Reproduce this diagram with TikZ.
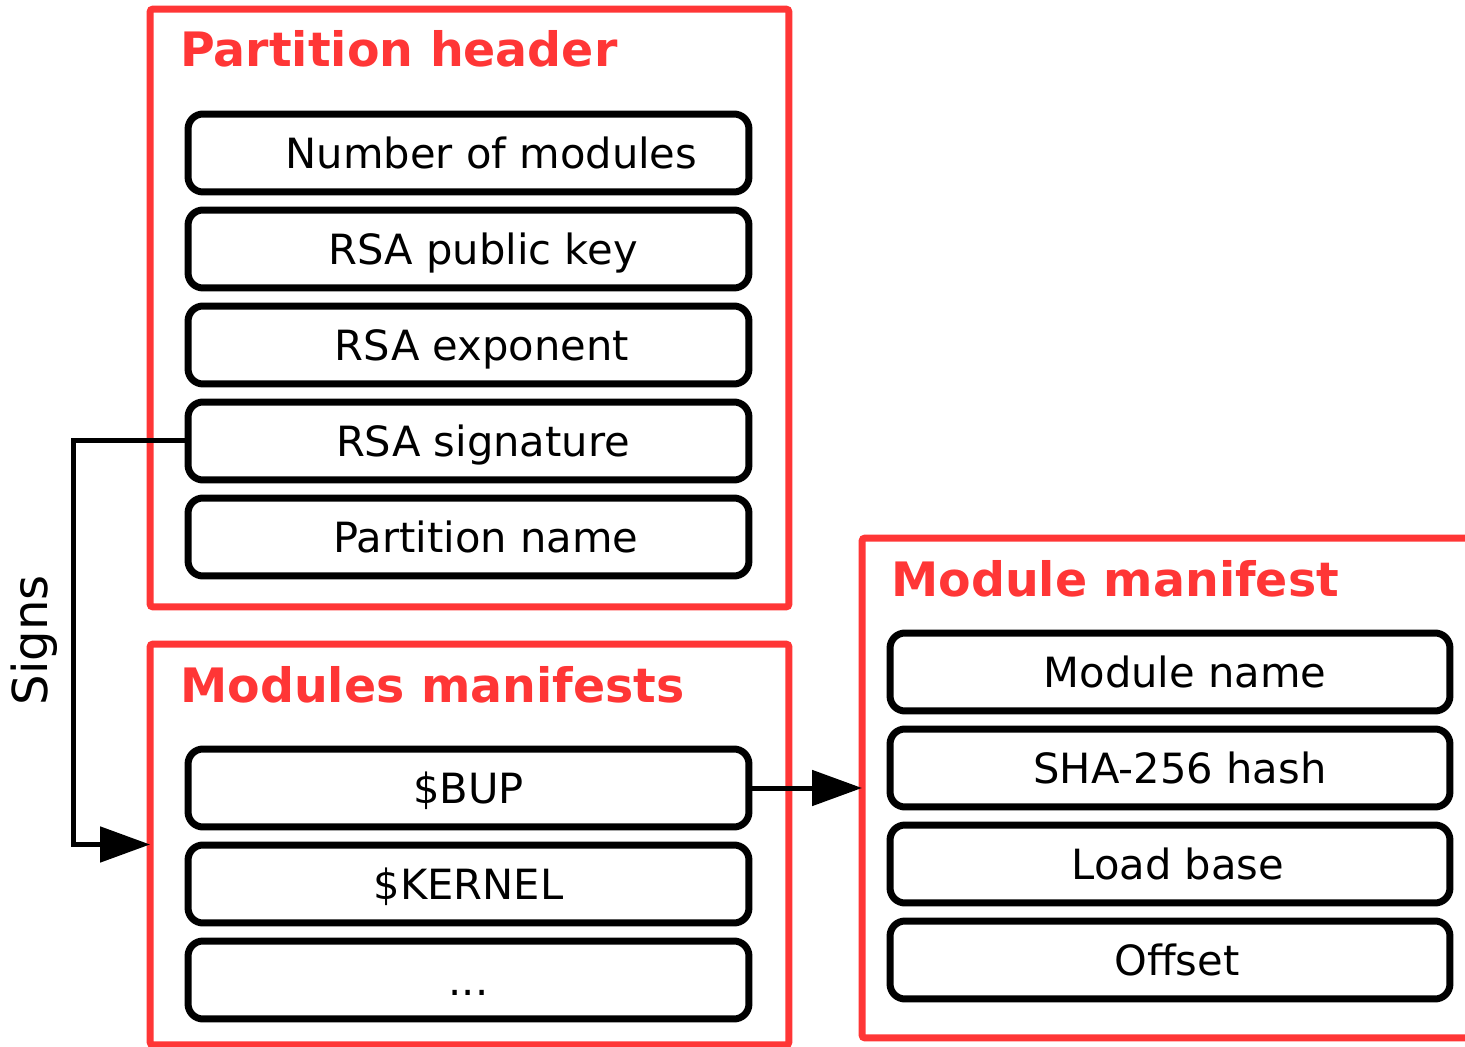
\documentclass[tikz,border=0pt]{standalone}
\usepackage{fontspec}
\setmainfont{DejaVu Sans}
\usetikzlibrary{arrows.meta}
\definecolor{boxred}{RGB}{255,54,54}
\tikzset{
  group/.style={draw=boxred, line width=0.14cm, rounded corners=0.06cm, inner sep=0pt, outer sep=0pt},
  field/.style={draw, line width=0.14cm, rounded corners=0.3cm, minimum width=11.22cm,
    minimum height=1.56cm, inner sep=0pt, text height=18.1pt, text depth=0pt,
    font=\fontsize{23.7pt}{28pt}\selectfont},
  nudge/.style={execute at begin node={\hspace*{#1}}},
  grouptitle/.style={anchor=base west, inner sep=0pt, text=boxred,
    font=\fontsize{27pt}{32pt}\selectfont\bfseries},
  link/.style={line width=0.1cm, -{Triangle[length=1cm,width=0.7cm]}}
}
\begin{document}
\begin{tikzpicture}[x=0.02cm, y=-0.02cm]
      \useasboundingbox (0,0) rectangle (1465,1047);
      % red groups
      \node (header) at (469.5,308) [group, minimum width=12.78cm, minimum height=11.96cm] {};
      \node (mods) at (469.5,844.5) [group, minimum width=12.78cm, minimum height=8.02cm] {};
      \node (manifest) at (1171,788) [group, minimum width=12.36cm, minimum height=10cm] {};
      \node (t1) at (180,67) [grouptitle] {Partition header};
      \node (t2) at (180,703) [grouptitle] {Modules manifests};
      \node (t3) at (891,597) [grouptitle] {Module manifest};
      % partition header fields
      \node (num) at (468.5,153) [field, nudge=0.92cm] {Number of modules};
      \node (key) at (468.5,249) [field, nudge=0.58cm] {RSA public key};
      \node (exp) at (468.5,345) [field, nudge=0.54cm] {RSA exponent};
      \node (sig) at (468.5,441) [field, nudge=0.58cm] {RSA signature};
      \node (pname) at (468.5,537) [field, nudge=0.7cm] {Partition name};
      % modules
      \node (bup) at (468.5,788) [field] {\$BUP};
      \node (kernel) at (468.5,884) [field] {\$KERNEL};
      \node (more) at (468.5,980) [field] {...};
      % one manifest
      \node (mname) at (1170,672) [field, minimum width=11.2cm, nudge=0.6cm] {Module name};
      \node (hash) at (1170,768) [field, minimum width=11.2cm, nudge=0.4cm] {SHA-256 hash};
      \node (base) at (1170,864) [field, minimum width=11.2cm, nudge=0.32cm] {Load base};
      \node (offs) at (1170,960) [field, minimum width=11.2cm, nudge=0.28cm] {Offset};
      % connectors
      \node (signs) at (34,640) [rotate=90, inner sep=0pt,
        font=\fontsize{27.4pt}{32pt}\selectfont] {Signs};
      \coordinate (bend) at (73,441);
      \draw [link] (sig.west) -- (bend) |- (mods.west);
      \draw [link] (bup.east) -- (manifest.west);
\end{tikzpicture}
\end{document}
